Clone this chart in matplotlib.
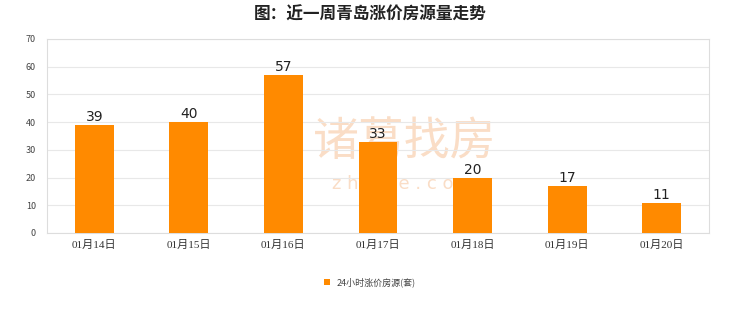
import matplotlib.pyplot as plt
import numpy as np

plt.rcParams['font.family'] = ['Noto Sans CJK SC', 'DejaVu Sans']

# data
dates = ['01月14日', '01月15日', '01月16日', '01月17日', '01月18日', '01月19日', '01月20日']
counts = [39, 40, 57, 33, 20, 17, 11]
series_name = '24小时涨价房源(套)'
title = '图：近一周青岛涨价房源量走势'

bar_color = '#FF8A00'
grid_color = '#E8E8E8'

fig = plt.figure(figsize=(7.4, 3.12), dpi=100)
ax = fig.add_axes([47 / 740, 1 - 233 / 312, 662 / 740, 194 / 312])

x = np.arange(len(dates))
bars = ax.bar(x, counts, width=0.41, color=bar_color, label=series_name, zorder=3)
for xi, v in zip(x, counts):
    ax.text(xi, v + 0.3, str(v), ha='center', va='bottom', fontsize=10, color='#222222',
            family='DejaVu Sans', zorder=4)

ax.set_xlim(-0.5, len(dates) - 0.5)
ax.set_ylim(0, 70)
ax.set_yticks(range(0, 71, 10))
ax.set_xticks(x)
ax.set_xticklabels(dates, fontsize=8, color='#333333',
                   family=['Liberation Serif', 'Noto Sans CJK SC'])
ax.tick_params(axis='y', labelsize=6.5, colors='#444444', length=0, pad=8)
ax.tick_params(axis='x', length=0, pad=5)
ax.grid(axis='y', color=grid_color, linewidth=0.8, zorder=0)
for s in ax.spines.values():
    s.set_color('#DDDDDD')
    s.set_linewidth(0.8)

# faint watermark behind the bars
ax.text(3.28, 33, '诸葛找房', fontsize=33, color='#FADDC6', ha='center', va='center', zorder=1)
ax.text(3.28, 17.8, 'z h u g e . c o m', fontsize=13, color='#FADDC6', ha='center',
        va='center', family='DejaVu Sans', zorder=1)

fig.text(370 / 740, 1 - 15 / 312, title, ha='center', va='center', fontsize=12,
         fontweight='bold', color='#222222')

leg = fig.legend(handles=[bars], labels=[series_name], loc='center',
                 bbox_to_anchor=(370 / 740, 1 - 282 / 312), frameon=False,
                 fontsize=6.5, handlelength=0.6, handleheight=0.6, handletextpad=0.8)
for t in leg.get_texts():
    t.set_color('#444444')

fig.savefig('out.png', dpi=100, facecolor='white')
